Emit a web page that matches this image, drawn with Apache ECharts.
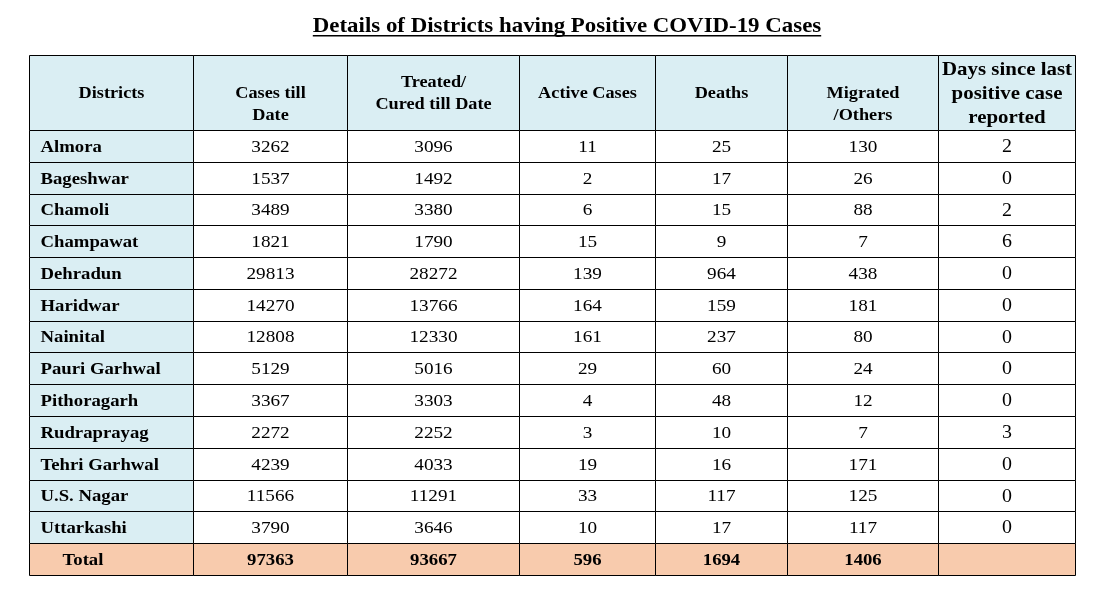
<!DOCTYPE html>
<html>
<head>
<meta charset="utf-8">
<script src="https://cdn.jsdelivr.net/npm/echarts@6/dist/echarts.min.js"></script>
<style>
html,body{margin:0;padding:0;background:#fff;}
#chart{width:1103px;height:606px;}
</style>
</head>
<body>
<div id="chart"></div>
<script>
// ---- data ----
const titleText = 'Details of Districts having Positive COVID-19 Cases';
const headers = ['Districts', '\nCases till\nDate', 'Treated/\nCured till Date', 'Active Cases', 'Deaths', '\nMigrated\n/Others', 'Days since last\npositive case\nreported'];
const districts = ['Almora', 'Bageshwar', 'Chamoli', 'Champawat', 'Dehradun', 'Haridwar', 'Nainital', 'Pauri Garhwal', 'Pithoragarh', 'Rudraprayag', 'Tehri Garhwal', 'U.S. Nagar', 'Uttarkashi'];
const casesTillDate = [3262, 1537, 3489, 1821, 29813, 14270, 12808, 5129, 3367, 2272, 4239, 11566, 3790];
const treatedCured = [3096, 1492, 3380, 1790, 28272, 13766, 12330, 5016, 3303, 2252, 4033, 11291, 3646];
const activeCases = [11, 2, 6, 15, 139, 164, 161, 29, 4, 3, 19, 33, 10];
const deaths = [25, 17, 15, 9, 964, 159, 237, 60, 48, 10, 16, 117, 17];
const migratedOthers = [130, 26, 88, 7, 438, 181, 80, 24, 12, 7, 171, 125, 117];
const daysSinceLast = [2, 0, 2, 6, 0, 0, 0, 0, 0, 3, 0, 0, 0];
const totalLabel = 'Total';
const totals = [97363, 93667, 596, 1694, 1406, ''];

// ---- layout (not data) ----
const colWidths = [164, 154, 172, 136, 132, 151, 137];
const headerH = 75;
const rowH = 31.8;
const nRows = districts.length + 1;
const tableW = colWidths.reduce((a, b) => a + b, 0);
const tableH = headerH + nRows * rowH;
const colX = [0];
colWidths.forEach((w, i) => colX.push(colX[i] + w));
const rowY = r => r === 0 ? 0 : headerH + (r - 1) * rowH;
const rowBottom = r => r === 0 ? headerH : headerH + r * rowH;

const BLUE = '#DAEEF3';
const PEACH = '#F8CBAD';
const SERIF = '"Liberation Serif", "Times New Roman", serif';

// build cells
const columns = [casesTillDate, treatedCured, activeCases, deaths, migratedOthers, daysSinceLast];
const cells = [];
headers.forEach((h, c) => cells.push({ value: [c, 0], text: h, kind: 'header' }));
districts.forEach((d, i) => {
  cells.push({ value: [0, i + 1], text: d, kind: 'name' });
  columns.forEach((col, j) => cells.push({ value: [j + 1, i + 1], text: String(col[i]), kind: j === 5 ? 'days' : 'num' }));
});
cells.push({ value: [0, nRows], text: totalLabel, kind: 'totalName' });
totals.forEach((t, j) => cells.push({ value: [j + 1, nRows], text: String(t), kind: 'total' }));

const chart = echarts.init(document.getElementById('chart'), null, { renderer: 'canvas' });

// measure title width for underline
const cv = document.createElement('canvas').getContext('2d');
const titleFont = 'bold 22px ' + SERIF;
cv.font = titleFont;
const titleScale = 1.04;
const titleW = cv.measureText(titleText).width * titleScale;
const titleCx = 567;

function renderItem(params, api) {
  const cell = cells[params.dataIndex];
  const c = cell.value[0], r = cell.value[1];
  const p0 = api.coord([colX[c], rowY(r)]);
  const p1 = api.coord([colX[c + 1], rowBottom(r)]);
  const x0 = Math.round(p0[0]) + 0.5, y0 = Math.round(p0[1]) + 0.5;
  const x1 = Math.round(p1[0]) + 0.5, y1 = Math.round(p1[1]) + 0.5;
  let fill = '#ffffff';
  if (r === 0 || c === 0) fill = BLUE;
  if (r === nRows) fill = PEACH;
  let font = '16px ' + SERIF, align = 'center', tx = (x0 + x1) / 2, lh = 22, sx = 1.18;
  switch (cell.kind) {
    case 'header':
      font = (c === 6 ? 'bold 19px ' : 'bold 16px ') + SERIF; lh = c === 6 ? 24 : 22; sx = c === 6 ? 1.1 : 1.14; break;
    case 'name': font = 'bold 16px ' + SERIF; align = 'left'; tx = x0 + 11; sx = 1.17; break;
    case 'totalName': font = 'bold 16px ' + SERIF; align = 'left'; tx = x0 + 33; sx = 1.17; break;
    case 'num': font = '16px ' + SERIF; sx = 1.2; break;
    case 'days': font = '19px ' + SERIF; sx = 1.05; break;
    case 'total': font = 'bold 16px ' + SERIF; sx = 1.17; break;
  }
  return {
    type: 'group',
    children: [
      { type: 'rect', shape: { x: x0, y: y0, width: x1 - x0, height: y1 - y0 },
        style: { fill: fill, stroke: '#000', lineWidth: 1 } },
      { type: 'text', x: tx, y: (y0 + y1) / 2 + 1, scaleX: sx,
        style: { text: cell.text, x: 0, y: 0, align: align, verticalAlign: 'middle',
        font: font, fill: '#000', lineHeight: lh } }
    ]
  };
}

chart.setOption({
  animation: false,
  backgroundColor: '#ffffff',
  grid: { left: 29, right: 1103 - 29 - tableW, top: 55, bottom: 606 - 55 - Math.round(tableH), containLabel: false },
  xAxis: { type: 'value', min: 0, max: tableW, show: false },
  yAxis: { type: 'value', min: 0, max: tableH, inverse: true, show: false },
  graphic: [
    { type: 'text', x: titleCx, y: 26, scaleX: titleScale, style: { text: titleText, x: 0, y: 0, font: titleFont, fill: '#000', align: 'center', verticalAlign: 'middle' } },
    { type: 'rect', shape: { x: titleCx - titleW / 2, y: 35, width: titleW, height: 1.6 }, style: { fill: '#000' } }
  ],
  series: [{
    type: 'custom',
    renderItem: renderItem,
    data: cells,
    clip: false
  }]
});
</script>
</body>
</html>
